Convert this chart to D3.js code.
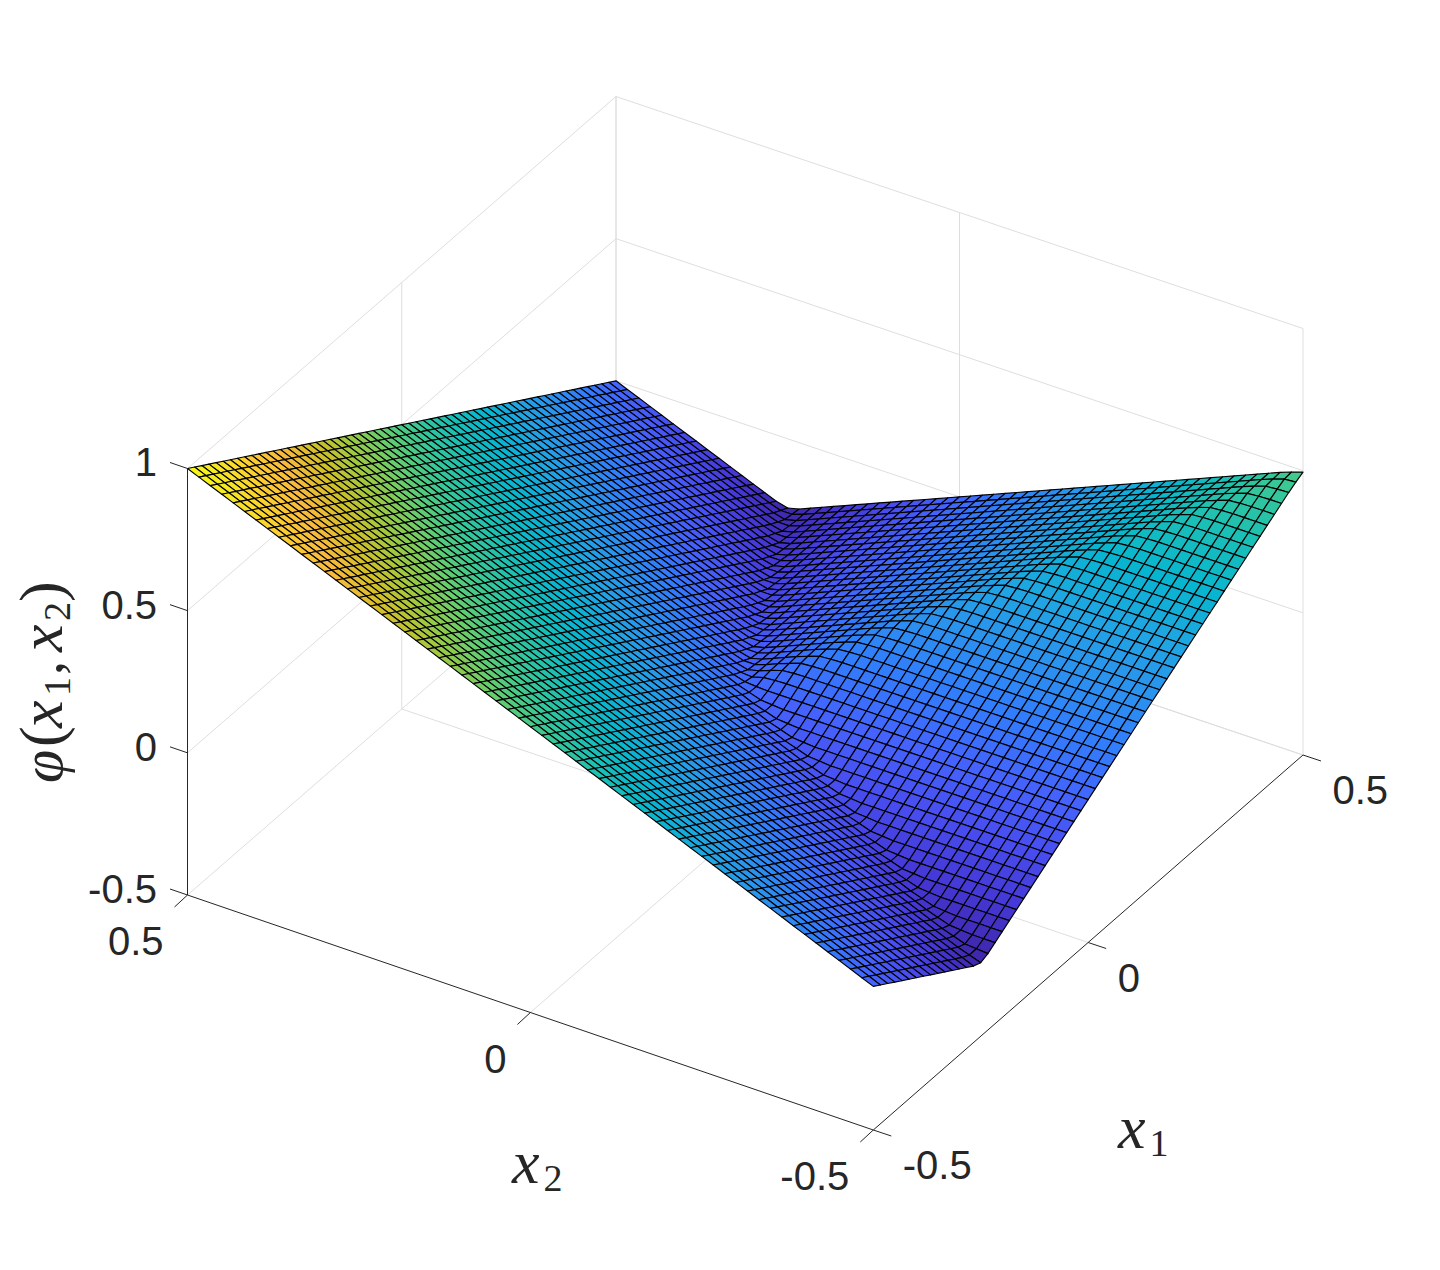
<!DOCTYPE html>
<html><head><meta charset="utf-8">
<script src="https://cdn.jsdelivr.net/npm/d3@7"></script>
<style>html,body{margin:0;padding:0;background:#fff}svg{display:block}</style>
</head><body><svg id="c" width="1440" height="1270"></svg>
<script>
// Mesh coordinates and heights, in sixtieths of a unit.
const x1Steps = [-30,-29,-28,-27,-26,-25,-24,-23,-22,-21,-20,-19,-18,-17,-16,-15,-14,-13,-12,-11,-10,-9,-8,-7,-6,-5,-4,-3,-2,-1,0,1,2,3,4,5,6,7,8,9,10,11,12,13,14,15,16,17,18,19,20,21,22,23,24,25,26,27,28,29,30];
const x2Steps = [30,29,28,27,26,25,24,23,22,21,20,19,18,17,16,15,14,13,12,11,10,9,8,7,6,5,4,3,2,1,0,-1,-2,-3,-4,-5,-6,-7,-8,-9,-10,-11,-12,-13,-14,-15,-16,-17,-18,-19,-20,-21,-22,-23,-24,-25,-26,-27,-28,-29,-30];
const zSixtieths = [
[60,59,58,57,56,55,54,53,52,51,50,49,48,47,46,45,44,43,42,41,40,39,38,37,36,35,34,33,32,31,30,29,28,27,26,25,24,23,22,21,20,19,18,17,16,15,14,13,12,11,10,9,8,7,6,5,4,3,2,1,0],
[59,58,57,56,55,54,53,52,51,50,49,48,47,46,45,44,43,42,41,40,39,38,37,36,35,34,33,32,31,30,29,28,27,26,25,24,23,22,21,20,19,18,17,16,15,14,13,12,11,10,9,8,7,6,5,4,3,2,1,0,-1],
[58,57,56,55,54,53,52,51,50,49,48,47,46,45,44,43,42,41,40,39,38,37,36,35,34,33,32,31,30,29,28,27,26,25,24,23,22,21,20,19,18,17,16,15,14,13,12,11,10,9,8,7,6,5,4,3,2,1,0,-1,-2],
[57,56,55,54,53,52,51,50,49,48,47,46,45,44,43,42,41,40,39,38,37,36,35,34,33,32,31,30,29,28,27,26,25,24,23,22,21,20,19,18,17,16,15,14,13,12,11,10,9,8,7,6,5,4,3,2,1,0,-1,-2,-3],
[56,55,54,53,52,51,50,49,48,47,46,45,44,43,42,41,40,39,38,37,36,35,34,33,32,31,30,29,28,27,26,25,24,23,22,21,20,19,18,17,16,15,14,13,12,11,10,9,8,7,6,5,4,3,2,1,0,-1,-2,-3,-4],
[55,54,53,52,51,50,49,48,47,46,45,44,43,42,41,40,39,38,37,36,35,34,33,32,31,30,29,28,27,26,25,24,23,22,21,20,19,18,17,16,15,14,13,12,11,10,9,8,7,6,5,4,3,2,1,0,-1,-2,-3,-4,-5],
[54,53,52,51,50,49,48,47,46,45,44,43,42,41,40,39,38,37,36,35,34,33,32,31,30,29,28,27,26,25,24,23,22,21,20,19,18,17,16,15,14,13,12,11,10,9,8,7,6,5,4,3,2,1,0,-1,-2,-3,-4,-5,-6],
[53,52,51,50,49,48,47,46,45,44,43,42,41,40,39,38,37,36,35,34,33,32,31,30,29,28,27,26,25,24,23,22,21,20,19,18,17,16,15,14,13,12,11,10,9,8,7,6,5,4,3,2,1,0,-1,-2,-3,-4,-5,-6,-7],
[52,51,50,49,48,47,46,45,44,43,42,41,40,39,38,37,36,35,34,33,32,31,30,29,28,27,26,25,24,23,22,21,20,19,18,17,16,15,14,13,12,11,10,9,8,7,6,5,4,3,2,1,0,-1,-2,-3,-4,-5,-6,-7,-8],
[51,50,49,48,47,46,45,44,43,42,41,40,39,38,37,36,35,34,33,32,31,30,29,28,27,26,25,24,23,22,21,20,19,18,17,16,15,14,13,12,11,10,9,8,7,6,5,4,3,2,1,0,-1,-2,-3,-4,-5,-6,-7,-8,-9],
[50,49,48,47,46,45,44,43,42,41,40,39,38,37,36,35,34,33,32,31,30,29,28,27,26,25,24,23,22,21,20,19,18,17,16,15,14,13,12,11,10,9,8,7,6,5,4,3,2,1,0,-1,-2,-3,-4,-5,-6,-7,-8,-9,-10],
[49,48,47,46,45,44,43,42,41,40,39,38,37,36,35,34,33,32,31,30,29,28,27,26,25,24,23,22,21,20,19,18,17,16,15,14,13,12,11,10,9,8,7,6,5,4,3,2,1,0,-1,-2,-3,-4,-5,-6,-7,-8,-9,-10,-11],
[48,47,46,45,44,43,42,41,40,39,38,37,36,35,34,33,32,31,30,29,28,27,26,25,24,23,22,21,20,19,18,17,16,15,14,13,12,11,10,9,8,7,6,5,4,3,2,1,0,-1,-2,-3,-4,-5,-6,-7,-8,-9,-10,-11,-12],
[47,46,45,44,43,42,41,40,39,38,37,36,35,34,33,32,31,30,29,28,27,26,25,24,23,22,21,20,19,18,17,16,15,14,13,12,11,10,9,8,7,6,5,4,3,2,1,0,-1,-2,-3,-4,-5,-6,-7,-8,-9,-10,-11,-12,-13],
[46,45,44,43,42,41,40,39,38,37,36,35,34,33,32,31,30,29,28,27,26,25,24,23,22,21,20,19,18,17,16,15,14,13,12,11,10,9,8,7,6,5,4,3,2,1,0,-1,-2,-3,-4,-5,-6,-7,-8,-9,-10,-11,-12,-13,-14],
[45,44,43,42,41,40,39,38,37,36,35,34,33,32,31,30,29,28,27,26,25,24,23,22,21,20,19,18,17,16,15,14,13,12,11,10,9,8,7,6,5,4,3,2,1,0,-1,-2,-3,-4,-5,-6,-7,-8,-9,-10,-11,-12,-13,-13.8,-14.6],
[44,43,42,41,40,39,38,37,36,35,34,33,32,31,30,29,28,27,26,25,24,23,22,21,20,19,18,17,16,15,14,13,12,11,10,9,8,7,6,5,4,3,2,1,0,-1,-2,-3,-4,-5,-6,-7,-8,-9,-10,-11,-12,-12.8,-13.6,-13.8,-14],
[43,42,41,40,39,38,37,36,35,34,33,32,31,30,29,28,27,26,25,24,23,22,21,20,19,18,17,16,15,14,13,12,11,10,9,8,7,6,5,4,3,2,1,0,-1,-2,-3,-4,-5,-6,-7,-8,-9,-10,-11,-11.8,-12.6,-12.8,-13,-13,-13],
[42,41,40,39,38,37,36,35,34,33,32,31,30,29,28,27,26,25,24,23,22,21,20,19,18,17,16,15,14,13,12,11,10,9,8,7,6,5,4,3,2,1,0,-1,-2,-3,-4,-5,-6,-7,-8,-9,-10,-10.8,-11.6,-11.8,-12,-12,-12,-12,-12],
[41,40,39,38,37,36,35,34,33,32,31,30,29,28,27,26,25,24,23,22,21,20,19,18,17,16,15,14,13,12,11,10,9,8,7,6,5,4,3,2,1,0,-1,-2,-3,-4,-5,-6,-7,-8,-9,-9.8,-10.6,-10.8,-11,-11,-11,-11,-11,-11,-11],
[40,39,38,37,36,35,34,33,32,31,30,29,28,27,26,25,24,23,22,21,20,19,18,17,16,15,14,13,12,11,10,9,8,7,6,5,4,3,2,1,0,-1,-2,-3,-4,-5,-6,-7,-8,-8.8,-9.6,-9.8,-10,-10,-10,-10,-10,-10,-10,-10,-10],
[39,38,37,36,35,34,33,32,31,30,29,28,27,26,25,24,23,22,21,20,19,18,17,16,15,14,13,12,11,10,9,8,7,6,5,4,3,2,1,0,-1,-2,-3,-4,-5,-6,-7,-7.8,-8.6,-8.8,-9,-9,-9,-9,-9,-9,-9,-9,-9,-9,-9],
[38,37,36,35,34,33,32,31,30,29,28,27,26,25,24,23,22,21,20,19,18,17,16,15,14,13,12,11,10,9,8,7,6,5,4,3,2,1,0,-1,-2,-3,-4,-5,-6,-6.8,-7.6,-7.8,-8,-8,-8,-8,-8,-8,-8,-8,-8,-8,-8,-8,-8],
[37,36,35,34,33,32,31,30,29,28,27,26,25,24,23,22,21,20,19,18,17,16,15,14,13,12,11,10,9,8,7,6,5,4,3,2,1,0,-1,-2,-3,-4,-5,-5.8,-6.6,-6.8,-7,-7,-7,-7,-7,-7,-7,-7,-7,-7,-7,-7,-7,-7,-7],
[36,35,34,33,32,31,30,29,28,27,26,25,24,23,22,21,20,19,18,17,16,15,14,13,12,11,10,9,8,7,6,5,4,3,2,1,0,-1,-2,-3,-4,-4.8,-5.6,-5.8,-6,-6,-6,-6,-6,-6,-6,-6,-6,-6,-6,-6,-6,-6,-6,-6,-6],
[35,34,33,32,31,30,29,28,27,26,25,24,23,22,21,20,19,18,17,16,15,14,13,12,11,10,9,8,7,6,5,4,3,2,1,0,-1,-2,-3,-3.8,-4.6,-4.8,-5,-5,-5,-5,-5,-5,-5,-5,-5,-5,-5,-5,-5,-5,-5,-5,-5,-5,-5],
[34,33,32,31,30,29,28,27,26,25,24,23,22,21,20,19,18,17,16,15,14,13,12,11,10,9,8,7,6,5,4,3,2,1,0,-1,-2,-2.8,-3.6,-3.8,-4,-4,-4,-4,-4,-4,-4,-4,-4,-4,-4,-4,-4,-4,-4,-4,-4,-4,-4,-4,-4],
[33,32,31,30,29,28,27,26,25,24,23,22,21,20,19,18,17,16,15,14,13,12,11,10,9,8,7,6,5,4,3,2,1,0,-1,-1.8,-2.6,-2.8,-3,-3,-3,-3,-3,-3,-3,-3,-3,-3,-3,-3,-3,-3,-3,-3,-3,-3,-3,-3,-3,-3,-3],
[32,31,30,29,28,27,26,25,24,23,22,21,20,19,18,17,16,15,14,13,12,11,10,9,8,7,6,5,4,3,2,1,0,-0.8,-1.6,-1.8,-2,-2,-2,-2,-2,-2,-2,-2,-2,-2,-2,-2,-2,-2,-2,-2,-2,-2,-2,-2,-2,-2,-2,-2,-2],
[31,30,29,28,27,26,25,24,23,22,21,20,19,18,17,16,15,14,13,12,11,10,9,8,7,6,5,4,3,2,1,0.2,-0.6,-0.8,-1,-1,-1,-1,-1,-1,-1,-1,-1,-1,-1,-1,-1,-1,-1,-1,-1,-1,-1,-1,-1,-1,-1,-1,-1,-1,-1],
[30,29,28,27,26,25,24,23,22,21,20,19,18,17,16,15,14,13,12,11,10,9,8,7,6,5,4,3,2,1,0.3,0,0,0,0,0,0,0,0,0,0,0,0,0,0,0,0,0,0,0,0,0,0,0,0,0,0,0,0,0,0],
[29,28,27,26,25,24,23,22,21,20,19,18,17,16,15,14,13,12,11,10,9,8,7,6,5,4,3,2,1,0.2,0.1,0.7,0.9,1,1,1,1,1,1,1,1,1,1,1,1,1,1,1,1,1,1,1,1,1,1,1,1,1,1,1,1],
[28,27,26,25,24,23,22,21,20,19,18,17,16,15,14,13,12,11,10,9,8,7,6,5,4,3,2,1,0,-0.6,0,0.9,1.7,1.9,2,2,2,2,2,2,2,2,2,2,2,2,2,2,2,2,2,2,2,2,2,2,2,2,2,2,2],
[27,26,25,24,23,22,21,20,19,18,17,16,15,14,13,12,11,10,9,8,7,6,5,4,3,2,1,0,-0.8,-0.8,0,1,1.9,2.7,2.9,3,3,3,3,3,3,3,3,3,3,3,3,3,3,3,3,3,3,3,3,3,3,3,3,3,3],
[26,25,24,23,22,21,20,19,18,17,16,15,14,13,12,11,10,9,8,7,6,5,4,3,2,1,0,-1,-1.6,-1,0,1,2,2.9,3.7,3.9,4,4,4,4,4,4,4,4,4,4,4,4,4,4,4,4,4,4,4,4,4,4,4,4,4],
[25,24,23,22,21,20,19,18,17,16,15,14,13,12,11,10,9,8,7,6,5,4,3,2,1,0,-1,-1.8,-1.8,-1,0,1,2,3,3.9,4.7,4.9,5,5,5,5,5,5,5,5,5,5,5,5,5,5,5,5,5,5,5,5,5,5,5,5],
[24,23,22,21,20,19,18,17,16,15,14,13,12,11,10,9,8,7,6,5,4,3,2,1,0,-1,-2,-2.6,-2,-1,0,1,2,3,4,4.9,5.7,5.9,6,6,6,6,6,6,6,6,6,6,6,6,6,6,6,6,6,6,6,6,6,6,6],
[23,22,21,20,19,18,17,16,15,14,13,12,11,10,9,8,7,6,5,4,3,2,1,0,-1,-2,-2.8,-2.8,-2,-1,0,1,2,3,4,5,5.9,6.7,6.9,7,7,7,7,7,7,7,7,7,7,7,7,7,7,7,7,7,7,7,7,7,7],
[22,21,20,19,18,17,16,15,14,13,12,11,10,9,8,7,6,5,4,3,2,1,0,-1,-2,-3,-3.6,-3,-2,-1,0,1,2,3,4,5,6,6.9,7.7,7.9,8,8,8,8,8,8,8,8,8,8,8,8,8,8,8,8,8,8,8,8,8],
[21,20,19,18,17,16,15,14,13,12,11,10,9,8,7,6,5,4,3,2,1,0,-1,-2,-3,-3.8,-3.8,-3,-2,-1,0,1,2,3,4,5,6,7,7.9,8.7,8.9,9,9,9,9,9,9,9,9,9,9,9,9,9,9,9,9,9,9,9,9],
[20,19,18,17,16,15,14,13,12,11,10,9,8,7,6,5,4,3,2,1,0,-1,-2,-3,-4,-4.6,-4,-3,-2,-1,0,1,2,3,4,5,6,7,8,8.9,9.7,9.9,10,10,10,10,10,10,10,10,10,10,10,10,10,10,10,10,10,10,10],
[19,18,17,16,15,14,13,12,11,10,9,8,7,6,5,4,3,2,1,0,-1,-2,-3,-4,-4.8,-4.8,-4,-3,-2,-1,0,1,2,3,4,5,6,7,8,9,9.9,10.7,10.9,11,11,11,11,11,11,11,11,11,11,11,11,11,11,11,11,11,11],
[18,17,16,15,14,13,12,11,10,9,8,7,6,5,4,3,2,1,0,-1,-2,-3,-4,-5,-5.6,-5,-4,-3,-2,-1,0,1,2,3,4,5,6,7,8,9,10,10.9,11.7,11.9,12,12,12,12,12,12,12,12,12,12,12,12,12,12,12,12,12],
[17,16,15,14,13,12,11,10,9,8,7,6,5,4,3,2,1,0,-1,-2,-3,-4,-5,-5.8,-5.8,-5,-4,-3,-2,-1,0,1,2,3,4,5,6,7,8,9,10,11,11.9,12.7,12.9,13,13,13,13,13,13,13,13,13,13,13,13,13,13,13,13],
[16,15,14,13,12,11,10,9,8,7,6,5,4,3,2,1,0,-1,-2,-3,-4,-5,-6,-6.6,-6,-5,-4,-3,-2,-1,0,1,2,3,4,5,6,7,8,9,10,11,12,12.9,13.7,13.9,14,14,14,14,14,14,14,14,14,14,14,14,14,14,14],
[15,14,13,12,11,10,9,8,7,6,5,4,3,2,1,0,-1,-2,-3,-4,-5,-6,-6.8,-6.8,-6,-5,-4,-3,-2,-1,0,1,2,3,4,5,6,7,8,9,10,11,12,13,13.9,14.7,14.9,15,15,15,15,15,15,15,15,15,15,15,15,15,15],
[14,13,12,11,10,9,8,7,6,5,4,3,2,1,0,-1,-2,-3,-4,-5,-6,-7,-7.6,-7,-6,-5,-4,-3,-2,-1,0,1,2,3,4,5,6,7,8,9,10,11,12,13,14,14.9,15.7,15.9,16,16,16,16,16,16,16,16,16,16,16,16,16],
[13,12,11,10,9,8,7,6,5,4,3,2,1,0,-1,-2,-3,-4,-5,-6,-7,-7.8,-7.8,-7,-6,-5,-4,-3,-2,-1,0,1,2,3,4,5,6,7,8,9,10,11,12,13,14,15,15.9,16.7,16.9,17,17,17,17,17,17,17,17,17,17,17,17],
[12,11,10,9,8,7,6,5,4,3,2,1,0,-1,-2,-3,-4,-5,-6,-7,-8,-8.6,-8,-7,-6,-5,-4,-3,-2,-1,0,1,2,3,4,5,6,7,8,9,10,11,12,13,14,15,16,16.9,17.7,17.9,18,18,18,18,18,18,18,18,18,18,18],
[11,10,9,8,7,6,5,4,3,2,1,0,-1,-2,-3,-4,-5,-6,-7,-8,-8.8,-8.8,-8,-7,-6,-5,-4,-3,-2,-1,0,1,2,3,4,5,6,7,8,9,10,11,12,13,14,15,16,17,17.9,18.7,18.9,19,19,19,19,19,19,19,19,19,19],
[10,9,8,7,6,5,4,3,2,1,0,-1,-2,-3,-4,-5,-6,-7,-8,-9,-9.6,-9,-8,-7,-6,-5,-4,-3,-2,-1,0,1,2,3,4,5,6,7,8,9,10,11,12,13,14,15,16,17,18,18.9,19.7,19.9,20,20,20,20,20,20,20,20,20],
[9,8,7,6,5,4,3,2,1,0,-1,-2,-3,-4,-5,-6,-7,-8,-9,-9.8,-9.8,-9,-8,-7,-6,-5,-4,-3,-2,-1,0,1,2,3,4,5,6,7,8,9,10,11,12,13,14,15,16,17,18,19,19.9,20.7,20.9,21,21,21,21,21,21,21,21],
[8,7,6,5,4,3,2,1,0,-1,-2,-3,-4,-5,-6,-7,-8,-9,-10,-10.6,-10,-9,-8,-7,-6,-5,-4,-3,-2,-1,0,1,2,3,4,5,6,7,8,9,10,11,12,13,14,15,16,17,18,19,20,20.9,21.7,21.9,22,22,22,22,22,22,22],
[7,6,5,4,3,2,1,0,-1,-2,-3,-4,-5,-6,-7,-8,-9,-10,-10.8,-10.8,-10,-9,-8,-7,-6,-5,-4,-3,-2,-1,0,1,2,3,4,5,6,7,8,9,10,11,12,13,14,15,16,17,18,19,20,21,21.9,22.7,22.9,23,23,23,23,23,23],
[6,5,4,3,2,1,0,-1,-2,-3,-4,-5,-6,-7,-8,-9,-10,-11,-11.6,-11,-10,-9,-8,-7,-6,-5,-4,-3,-2,-1,0,1,2,3,4,5,6,7,8,9,10,11,12,13,14,15,16,17,18,19,20,21,22,22.9,23.7,23.9,24,24,24,24,24],
[5,4,3,2,1,0,-1,-2,-3,-4,-5,-6,-7,-8,-9,-10,-11,-11.8,-11.8,-11,-10,-9,-8,-7,-6,-5,-4,-3,-2,-1,0,1,2,3,4,5,6,7,8,9,10,11,12,13,14,15,16,17,18,19,20,21,22,23,23.9,24.7,24.9,25,25,25,25],
[4,3,2,1,0,-1,-2,-3,-4,-5,-6,-7,-8,-9,-10,-11,-12,-12.6,-12,-11,-10,-9,-8,-7,-6,-5,-4,-3,-2,-1,0,1,2,3,4,5,6,7,8,9,10,11,12,13,14,15,16,17,18,19,20,21,22,23,24,24.9,25.7,25.9,26,26,26],
[3,2,1,0,-1,-2,-3,-4,-5,-6,-7,-8,-9,-10,-11,-12,-12.8,-12.8,-12,-11,-10,-9,-8,-7,-6,-5,-4,-3,-2,-1,0,1,2,3,4,5,6,7,8,9,10,11,12,13,14,15,16,17,18,19,20,21,22,23,24,25,25.9,26.7,26.9,27,27],
[2,1,0,-1,-2,-3,-4,-5,-6,-7,-8,-9,-10,-11,-12,-13,-13.6,-13,-12,-11,-10,-9,-8,-7,-6,-5,-4,-3,-2,-1,0,1,2,3,4,5,6,7,8,9,10,11,12,13,14,15,16,17,18,19,20,21,22,23,24,25,26,26.9,27.7,27.9,28],
[1,0,-1,-2,-3,-4,-5,-6,-7,-8,-9,-10,-11,-12,-13,-13.8,-13.8,-13,-12,-11,-10,-9,-8,-7,-6,-5,-4,-3,-2,-1,0,1,2,3,4,5,6,7,8,9,10,11,12,13,14,15,16,17,18,19,20,21,22,23,24,25,26,27,27.9,28.7,28.9],
[0,-1,-2,-3,-4,-5,-6,-7,-8,-9,-10,-11,-12,-13,-14,-14.6,-14,-13,-12,-11,-10,-9,-8,-7,-6,-5,-4,-3,-2,-1,0,1,2,3,4,5,6,7,8,9,10,11,12,13,14,15,16,17,18,19,20,21,22,23,24,25,26,27,28,28.9,29.7]
];
const x1Ticks = [-0.5, 0, 0.5];
const x2Ticks = [0.5, 0, -0.5];
const zTicks = [-0.5, 0, 0.5, 1];
const tickText = new Map([[-0.5,"-0.5"],[0,"0"],[0.5,"0.5"],[1,"1"]]);
const parulaStops = ["#3e26a8","#4537d5","#484df0","#4563fd","#327cfc","#2b91ef","#20a5e3","#08b5d0","#19bfb6","#37c897","#64cd6f","#9dc943","#d1bf27","#f8ba3d","#fccf30","#f5e924","#f9fb15"];
const parulaAt = [0,4,8,12,16,20,24,28,32,36,40,44,48,52,56,60,63];

const svg = d3.select("#c");
const unit = d3.scaleLinear([0,60],[0,1]);
const sOf = d3.scaleLinear([-0.5,0.5],[0,1]);   // along x1
const tOf = d3.scaleLinear([0.5,-0.5],[0,1]);   // along x2
const rise = d3.scaleLinear([-0.5,1],[0,426.5]);
const L=[187.5,895], B=[616,523], F=[873.3,1130], R=[1303,755];
function base(x1,x2){
  const s=sOf(x1), t=tOf(x2);
  return [0,1].map(k=>L[k]*(1-s)*(1-t)+B[k]*s*(1-t)+F[k]*(1-s)*t+R[k]*s*t);
}
function P(x1,x2,z){
  const p=base(x1,x2), s=sOf(x1), t=tOf(x2);
  return [p[0], p[1]-rise(z)*(1+0.01*(1-s)*t)];
}
const GRID="#dedede", INK="#262626";
const line=d3.line();
const zMin=d3.min(zSixtieths,r=>d3.min(r))/60, zMax=d3.max(zSixtieths,r=>d3.max(r))/60;
const tColor=d3.scaleLinear([zMin,zMax],[0,63]);
const cmap=d3.scaleLinear(parulaAt,parulaStops).interpolate(d3.interpolateRgb);

// walls and floor grid
const g=svg.append("g").attr("fill","none").attr("stroke",GRID).attr("stroke-width",1);
const seg=(gg,a,b)=>gg.append("path").attr("d",line([a,b]));
zTicks.forEach(z=>{ seg(g,P(-0.5,0.5,z),P(0.5,0.5,z)); seg(g,P(0.5,0.5,z),P(0.5,-0.5,z)); });
x1Ticks.forEach(x=>{ seg(g,P(x,0.5,-0.5),P(x,0.5,1)); if(x!==-0.5) seg(g,P(x,0.5,-0.5),P(x,-0.5,-0.5)); });
x2Ticks.forEach(x=>{ seg(g,P(0.5,x,-0.5),P(0.5,x,1)); if(x!==-0.5&&x!==0.5) seg(g,P(0.5,x,-0.5),P(-0.5,x,-0.5)); });

// surface, far cells first
const cells=[];
for(let i=x1Steps.length-2;i>=0;i--){
  for(let j=0;j<x2Steps.length-1;j++){
    const a=unit(x1Steps[i]),b=unit(x1Steps[i+1]),u=unit(x2Steps[j]),v=unit(x2Steps[j+1]);
    const zz=[zSixtieths[j][i],zSixtieths[j][i+1],zSixtieths[j+1][i+1],zSixtieths[j+1][i]].map(unit);
    cells.push({pts:[P(a,u,zz[0]),P(b,u,zz[1]),P(b,v,zz[2]),P(a,v,zz[3])],z:d3.mean(zz)});
  }
}
svg.append("g").selectAll("path").data(cells).join("path")
  .attr("d",d=>line(d.pts)+"Z")
  .attr("fill",d=>cmap(tColor(d.z)))
  .attr("stroke","#000").attr("stroke-width",1.15).attr("stroke-linejoin","round");

// axes
const ax=svg.append("g").attr("fill","none").attr("stroke",INK).attr("stroke-width",1);
seg(ax,P(-0.5,0.5,-0.5),P(-0.5,0.5,1));
seg(ax,P(-0.5,0.5,-0.5),P(-0.5,-0.5,-0.5));
seg(ax,P(-0.5,-0.5,-0.5),P(0.5,-0.5,-0.5));
const tk=svg.append("g").attr("font-family","'Liberation Sans',Arial,sans-serif").attr("font-size",40).attr("fill",INK);
const lab=(p,s,anchor)=>tk.append("text").attr("x",p[0]).attr("y",p[1]).attr("dy","0.36em").attr("text-anchor",anchor).text(s);
zTicks.forEach(z=>{const p=P(-0.5,0.5,z); seg(ax,p,[p[0]-17.5,p[1]-6]); lab([p[0]-30.5,p[1]-6.5],tickText.get(z),"end");});
x2Ticks.forEach(x=>{const p=P(-0.5,x,-0.5); seg(ax,p,[p[0]-13,p[1]+12]); lab([p[0]-24,p[1]+46],tickText.get(x),"end");});
x1Ticks.forEach(x=>{const p=P(x,-0.5,-0.5); seg(ax,p,[p[0]+18,p[1]+6]); lab([p[0]+29.5,p[1]+35],tickText.get(x),"start");});

// axis titles
const serif="'Liberation Serif','Times New Roman',serif";
function sub(x,y,name,digit){
  const t=svg.append("text").attr("font-family",serif).attr("fill",INK).attr("x",x).attr("y",y);
  t.append("tspan").attr("font-style","italic").attr("font-size",62).text(name);
  t.append("tspan").attr("font-size",38).attr("dx",4).attr("dy",8).text(digit);
}
sub(1118,1148,"x","1");
sub(512,1183,"x","2");
const yl=svg.append("text").attr("font-family",serif).attr("fill",INK).attr("transform","translate(62,783) rotate(-90)");
[["φ",0,0,60,"italic"],["(",36,0,62,"normal"],["x",55,0,62,"italic"],["1",87,8,38,"normal"],[",",108,0,56,"normal"],["x",131,0,62,"italic"],["2",162,8,38,"normal"],[")",181,0,62,"normal"]]
 .forEach(([s,x,y,fs,st])=>yl.append("tspan").attr("x",x).attr("y",y).attr("font-size",fs).attr("font-style",st).text(s));
</script></body></html>
